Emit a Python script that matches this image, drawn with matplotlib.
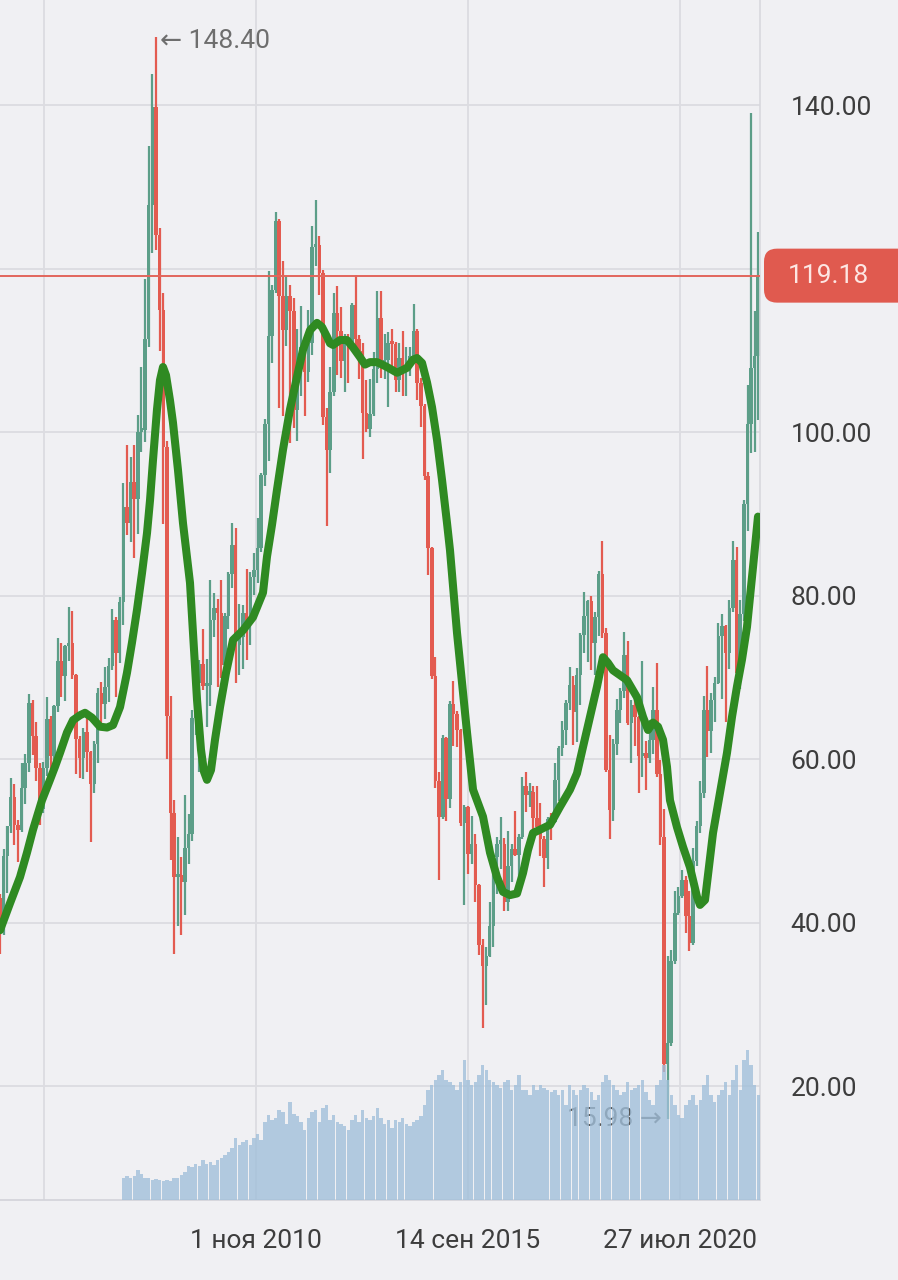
"""Brent-style weekly chart recreation: monthly candles, smoothed trend line and volume."""

import matplotlib

matplotlib.use("Agg")
import matplotlib.pyplot as plt
import matplotlib.patches as mpatches
from matplotlib.transforms import IdentityTransform
import pandas as pd


START_MONTH = "2004-12-01"
VOLUME_START = "2007-10-01"

# monthly OHLC, Dec 2004 .. May 2022 (one row per calendar year)
opens = [
    43.0,
    40.2, 48.2, 51.8, 55.4, 52.0, 51.4, 56.5, 59.5, 66.9, 62.9, 59.0, 53.9,
    58.9, 65.0, 60.4, 66.5, 72.0, 70.2, 73.9, 74.3, 70.3, 62.5, 60.2, 63.4,
    60.9, 57.0, 61.9, 68.1, 66.8, 68.8, 71.4, 77.1, 73.0, 79.2, 90.9, 88.9,
    93.9, 91.8, 100.1, 100.3, 111.4, 127.8, 139.8, 124.1, 115.0, 98.2, 65.3, 53.5,
    45.6, 45.9, 45.0, 49.2, 50.9, 65.1, 69.3, 71.7, 69.0, 69.1, 77.0, 78.5,
    77.9, 71.5, 77.6, 82.7, 86.2, 74.0, 75.0, 77.9, 76.7, 82.3, 83.2, 85.9,
    94.8, 101.0, 111.8, 117.4, 125.9, 116.7, 112.5, 116.7, 114.9, 102.8, 109.6, 110.5,
    107.4, 111.0, 122.7, 122.9, 119.5, 101.9, 97.8, 104.9, 114.6, 112.4, 108.7, 111.2,
    111.1, 115.6, 111.4, 110.0, 102.4, 100.4, 102.2, 107.7, 114.0, 108.4, 108.8, 110.9,
    110.8, 106.4, 109.1, 107.8, 108.1, 109.4, 112.4, 106.0, 103.2, 94.7, 85.9, 70.2,
    57.3, 53.0, 62.6, 55.1, 66.8, 65.6, 63.6, 52.2, 54.2, 48.4, 49.6, 44.6,
    37.3, 34.7, 36.0, 39.6, 48.1, 49.7, 49.7, 42.5, 47.0, 49.1, 48.3, 50.5,
    56.8, 55.7, 56.0, 52.8, 51.7, 50.3, 47.9, 52.7, 52.4, 57.5, 61.4, 63.6,
    66.9, 69.1, 65.8, 70.3, 75.2, 77.6, 79.4, 74.3, 77.4, 82.7, 75.5, 58.7,
    53.8, 61.9, 66.0, 68.4, 72.8, 64.5, 66.6, 65.2, 60.4, 60.8, 60.2, 62.4,
    66.0, 58.2, 50.5, 22.7, 25.3, 35.3, 41.2, 43.3, 45.3, 40.9, 37.5, 47.6,
    51.8, 55.9, 66.1, 63.5, 67.3, 69.3, 75.1, 76.3, 73.0, 78.5, 84.4, 70.6,
    77.8, 91.2, 101.0, 107.9, 109.3,
]
highs = [
    43.5,
    49.0, 51.9, 57.7, 57.0, 52.6, 59.5, 60.6, 68.0, 67.3, 64.6, 59.6, 59.7,
    67.6, 65.3, 66.6, 74.8, 74.3, 74.0, 78.6, 78.2, 70.5, 62.9, 63.8, 65.1,
    61.0, 62.2, 68.7, 69.5, 71.3, 72.4, 78.4, 77.4, 79.9, 93.8, 98.5, 97.0,
    98.5, 102.1, 108.0, 118.8, 135.1, 143.9, 148.4, 125.0, 117.0, 99.0, 67.8, 55.0,
    50.5, 48.0, 55.7, 53.3, 66.0, 71.9, 72.1, 76.0, 72.3, 81.9, 80.4, 79.6,
    82.0, 77.9, 82.9, 88.9, 88.3, 79.0, 78.9, 83.3, 82.9, 85.2, 89.5, 95.0,
    101.7, 119.8, 118.0, 127.0, 126.1, 121.0, 119.1, 118.0, 116.5, 112.7, 115.5, 111.0,
    115.0, 125.2, 128.4, 124.0, 119.9, 103.0, 108.0, 117.0, 117.9, 115.4, 112.0, 112.0,
    115.8, 119.2, 111.9, 111.0, 106.4, 106.5, 109.8, 117.3, 117.3, 112.0, 112.3, 112.6,
    111.1, 111.0, 112.4, 110.4, 110.5, 115.7, 112.6, 106.6, 103.5, 95.2, 86.0, 72.5,
    58.5, 63.0, 62.8, 67.1, 69.6, 65.9, 63.7, 54.4, 54.3, 53.1, 50.9, 44.8,
    38.0, 37.0, 42.5, 48.5, 50.5, 52.9, 50.4, 51.2, 49.7, 53.7, 50.9, 57.9,
    58.4, 57.1, 56.8, 56.7, 54.7, 50.6, 52.9, 53.4, 59.5, 61.7, 64.7, 67.3,
    71.3, 70.2, 71.2, 75.5, 80.5, 79.5, 80.0, 78.0, 83.0, 86.7, 76.1, 63.0,
    62.5, 67.4, 68.7, 75.6, 74.5, 67.3, 67.9, 65.3, 72.0, 62.3, 64.8, 68.9,
    71.8, 59.9, 53.9, 36.0, 36.7, 43.9, 44.4, 46.5, 45.7, 43.9, 49.2, 52.5,
    57.4, 67.7, 71.4, 68.1, 70.1, 76.7, 77.8, 76.5, 79.5, 86.7, 86.0, 79.5,
    91.7, 105.8, 139.1, 114.8, 124.5,
]
lows = [
    36.2,
    38.5, 43.6, 51.0, 49.5, 47.4, 51.1, 54.6, 58.5, 60.5, 57.4, 52.0, 53.5,
    58.0, 57.4, 59.2, 65.8, 67.6, 67.1, 72.0, 69.8, 58.2, 57.7, 57.6, 58.5,
    49.9, 55.9, 59.6, 64.0, 64.9, 67.0, 70.9, 67.6, 71.8, 76.5, 87.5, 86.6,
    84.6, 87.6, 97.6, 98.8, 110.5, 122.0, 122.3, 109.9, 88.8, 60.0, 47.7, 36.2,
    39.6, 38.5, 41.0, 47.2, 50.0, 63.0, 58.4, 68.5, 64.0, 66.5, 75.0, 68.8,
    70.0, 69.2, 76.0, 81.0, 69.3, 70.3, 71.1, 72.1, 74.0, 80.1, 81.6, 85.4,
    93.4, 96.5, 108.5, 117.0, 103.0, 102.0, 110.6, 98.7, 100.5, 99.0, 104.5, 102.0,
    106.2, 109.5, 120.4, 116.8, 100.9, 88.5, 95.0, 104.5, 107.0, 106.7, 105.0, 106.0,
    110.5, 110.0, 106.5, 96.8, 100.0, 99.5, 102.0, 106.0, 106.6, 106.5, 103.1, 108.0,
    104.9, 105.0, 104.4, 104.5, 106.9, 108.6, 104.0, 100.7, 94.2, 82.6, 69.8, 56.5,
    45.2, 52.7, 52.5, 54.0, 61.6, 61.5, 51.9, 42.2, 46.0, 47.2, 42.5, 36.1,
    27.1, 30.0, 35.8, 37.1, 43.5, 46.6, 41.5, 41.5, 45.0, 48.2, 43.6, 50.3,
    53.6, 54.2, 50.3, 50.8, 48.2, 44.4, 46.6, 50.2, 52.2, 54.9, 60.4, 61.8,
    66.0, 61.8, 62.1, 66.6, 73.0, 71.9, 70.9, 70.3, 75.1, 74.8, 58.4, 50.3,
    52.5, 60.5, 64.4, 67.5, 64.2, 59.5, 61.6, 55.9, 57.8, 56.2, 59.6, 60.6,
    57.9, 49.5, 21.7, 15.98, 25.0, 35.0, 41.0, 43.0, 38.8, 36.6, 37.3, 47.0,
    51.0, 55.3, 60.3, 60.8, 64.6, 69.2, 67.4, 64.6, 71.1, 78.0, 70.0, 68.6,
    76.9, 88.0, 97.5, 97.6, 101.5,
]
closes = [
    40.2,
    48.2, 51.8, 55.4, 52.0, 51.4, 56.5, 59.5, 66.9, 62.9, 59.0, 53.9, 58.9,
    65.0, 60.4, 66.5, 72.0, 70.2, 73.9, 74.3, 70.3, 62.5, 60.2, 63.4, 60.9,
    57.0, 61.9, 68.1, 66.8, 68.8, 71.4, 77.1, 73.0, 79.2, 90.9, 88.9, 93.9,
    91.8, 100.1, 100.3, 111.4, 127.8, 139.8, 124.1, 115.0, 98.2, 65.3, 53.5, 45.6,
    45.9, 45.0, 49.2, 50.9, 65.1, 69.3, 71.7, 69.0, 69.1, 77.0, 78.5, 77.9,
    71.5, 77.6, 82.7, 86.2, 74.0, 75.0, 77.9, 76.7, 82.3, 83.2, 85.9, 94.8,
    101.0, 111.8, 117.4, 125.9, 116.7, 112.5, 116.7, 114.9, 102.8, 109.6, 110.5, 107.4,
    111.0, 122.7, 122.9, 119.5, 101.9, 97.8, 104.9, 114.6, 112.4, 108.7, 111.2, 111.1,
    115.6, 111.4, 110.0, 102.4, 100.4, 102.2, 107.7, 114.0, 108.4, 108.8, 110.9, 110.8,
    106.4, 109.1, 107.8, 108.1, 109.4, 112.4, 106.0, 103.2, 94.7, 85.9, 70.2, 57.3,
    53.0, 62.6, 55.1, 66.8, 65.6, 63.6, 52.2, 54.2, 48.4, 49.6, 44.6, 37.3,
    34.7, 36.0, 39.6, 48.1, 49.7, 49.7, 42.5, 47.0, 49.1, 48.3, 50.5, 56.8,
    55.7, 56.0, 52.8, 51.7, 50.3, 47.9, 52.7, 52.4, 57.5, 61.4, 63.6, 66.9,
    69.1, 65.8, 70.3, 75.2, 77.6, 79.4, 74.3, 77.4, 82.7, 75.5, 58.7, 53.8,
    61.9, 66.0, 68.4, 72.8, 64.5, 66.6, 65.2, 60.4, 60.8, 60.2, 62.4, 66.0,
    58.2, 50.5, 22.7, 25.3, 35.3, 41.2, 43.3, 45.3, 40.9, 37.5, 47.6, 51.8,
    55.9, 66.1, 63.5, 67.3, 69.3, 75.1, 76.3, 73.0, 78.5, 84.4, 70.6, 77.8,
    91.2, 101.0, 107.9, 109.3, 119.18,
]

# monthly volume (relative units), Oct 2007 .. May 2022
volumes = [
    22, 24, 22,
    24, 30, 26, 22, 22, 20, 21, 20, 19, 20, 19, 22,
    22, 25, 28, 34, 33, 36, 34, 40, 36, 38, 35, 40,
    42, 45, 48, 52, 62, 55, 58, 60, 55, 62, 66, 60,
    78, 85, 80, 82, 90, 88, 76, 98, 86, 84, 78, 70,
    82, 88, 90, 78, 92, 95, 80, 85, 78, 76, 74, 70,
    80, 85, 78, 90, 82, 80, 84, 92, 82, 76, 80, 72,
    80, 78, 82, 76, 74, 78, 80, 84, 95, 110, 115, 120,
    125, 130, 120, 118, 115, 110, 118, 140, 120, 115, 118, 125,
    135, 130, 120, 118, 115, 112, 118, 120, 110, 115, 125, 110,
    110, 105, 115, 110, 115, 112, 110, 108, 110, 105, 110, 95,
    115, 110, 105, 110, 115, 112, 108, 100, 105, 118, 125, 120,
    115, 110, 105, 108, 118, 110, 112, 115, 120, 108, 100, 95,
    115, 120, 135, 120, 105, 95, 85, 82, 95, 100, 105, 95,
    100, 115, 125, 105, 98, 105, 110, 118, 105, 120, 135, 110,
    140, 150, 135, 115, 105,
]

# hand-drawn green trend line (decimal year, price)
ma_years = [
    2004.956, 2005.186, 2005.415, 2005.576, 2005.714, 2005.920, 2006.104,
    2006.219, 2006.334, 2006.495, 2006.632, 2006.793, 2006.908, 2007.069,
    2007.252, 2007.413, 2007.551, 2007.712, 2007.872, 2007.987, 2008.102,
    2008.217, 2008.332, 2008.401, 2008.469, 2008.561, 2008.630, 2008.699,
    2008.768, 2008.860, 2008.928, 2009.043, 2009.158, 2009.319, 2009.480,
    2009.571, 2009.640, 2009.709, 2009.801, 2009.893, 2010.008, 2010.146,
    2010.306, 2010.536, 2010.766, 2010.995, 2011.087, 2011.202, 2011.317,
    2011.455, 2011.615, 2011.776, 2011.914, 2012.075, 2012.235, 2012.350,
    2012.465, 2012.534, 2012.603, 2012.763, 2012.924, 2013.062, 2013.223,
    2013.338, 2013.453, 2013.613, 2013.843, 2014.073, 2014.302, 2014.440,
    2014.532, 2014.647, 2014.762, 2014.876, 2014.991, 2015.106, 2015.221,
    2015.289, 2015.450, 2015.680, 2015.818, 2016.047, 2016.208, 2016.369,
    2016.506, 2016.667, 2016.828, 2016.966, 2017.080, 2017.195, 2017.356,
    2017.586, 2017.815, 2018.045, 2018.206, 2018.343, 2018.504, 2018.665,
    2018.803, 2018.918, 2019.032, 2019.354, 2019.584, 2019.722, 2019.836,
    2019.951, 2020.066, 2020.181, 2020.272, 2020.341, 2020.502, 2020.640,
    2020.800, 2020.961, 2021.030, 2021.145, 2021.329, 2021.489, 2021.650,
    2021.765, 2021.879, 2021.994, 2022.109, 2022.247, 2022.362,
]
ma_values = [
    39.1, 42.4, 45.6, 48.6, 51.4, 55.0, 57.5,
    59.1, 60.8, 63.3, 64.8, 65.4, 65.7, 65.1,
    64.0, 63.9, 64.2, 66.4, 70.6, 74.3, 78.3,
    82.8, 87.7, 91.7, 96.6, 102.8, 106.4, 108.0,
    107.0, 103.9, 101.2, 95.4, 88.9, 81.6, 67.3,
    61.2, 58.5, 57.5, 58.7, 62.4, 66.4, 70.6,
    74.6, 75.8, 77.4, 80.4, 84.8, 88.7, 93.0,
    97.9, 102.8, 106.8, 110.1, 112.5, 113.4, 112.9,
    111.7, 110.9, 110.7, 111.3, 111.3, 110.4, 109.2,
    108.3, 108.6, 108.6, 108.0, 107.3, 107.9, 108.9,
    109.1, 108.5, 106.1, 103.1, 99.1, 94.2, 88.9,
    85.6, 75.5, 63.3, 56.3, 53.0, 48.6, 45.6,
    43.8, 43.4, 43.6, 46.1, 48.9, 51.0, 51.4,
    52.0, 54.2, 56.3, 58.3, 61.5, 65.2, 68.9,
    72.5, 71.8, 70.9, 69.7, 67.6, 65.2, 63.6,
    64.5, 64.0, 62.4, 59.1, 55.0, 51.7, 49.3,
    46.8, 43.2, 42.2, 42.8, 51.0, 55.9, 60.8,
    65.2, 68.9, 72.2, 76.2, 83.5, 89.7,
]

tick_dates = ["2005-12-19", "2010-11-01", "2015-09-14", "2020-07-27"]
tick_labels = ["", "1 ноя 2010", "14 сен 2015", "27 июл 2020"]
price_ticks = [20, 40, 60, 80, 100, 120, 140]

BG = "#f0f0f3"
UP = "#5c9e88"
DOWN = "#e35b50"
TEXT = "#3d3d3d"


def to_year(ts):
    days = 366 if ts.is_leap_year else 365
    return ts.year + (ts.dayofyear - 1) / days


def main() -> None:
    plt.rcParams["font.family"] = ["Roboto", "DejaVu Sans"]

    fig = plt.figure(figsize=(8.98, 12.8), dpi=100, facecolor=BG)
    ax = fig.add_axes([0, 80 / 1280, 760 / 898, 1200 / 1280], facecolor=BG)

    months = pd.date_range(START_MONTH, periods=len(closes), freq="MS")
    xs = [to_year(m + pd.Timedelta(days=14)) for m in months]
    colors = [UP if c >= o else DOWN for o, c in zip(opens, closes)]
    bottoms = [min(o, c) for o, c in zip(opens, closes)]
    heights = [max(abs(c - o), 0.4) for o, c in zip(opens, closes)]

    ax.vlines(xs, lows, highs, colors=colors, linewidth=1.6, zorder=2)
    ax.bar(xs, heights, bottom=bottoms, width=0.08, color=colors,
           linewidth=0, zorder=2)

    last_price = closes[-1]
    ax.axhline(last_price, color="#e2665c", linewidth=1.4, zorder=3)
    ax.plot(ma_years, ma_values, color="#2f8a22", linewidth=5.8,
            solid_capstyle="round", solid_joinstyle="round", zorder=5)

    ax.set_xlim(2004.956, 2022.408)
    ax.set_ylim(6.1, 152.9)

    # extremes
    i_hi = highs.index(max(highs))
    i_lo = lows.index(min(lows))
    ax.annotate(f"← {highs[i_hi]:.2f}", xy=(xs[i_hi], highs[i_hi]),
                xytext=(3, -3), textcoords="offset points", ha="left",
                va="center", fontsize=19, color="#6e6e6e", zorder=6)
    ax.annotate(f"{lows[i_lo]:.2f} →", xy=(xs[i_lo], lows[i_lo]),
                xytext=(-4, 0), textcoords="offset points", ha="right",
                va="center", fontsize=19, color="#555555", zorder=1)

    # volume on its own scale, drawn over the price pane
    vol_ax = ax.twinx()
    vol_months = pd.date_range(VOLUME_START, periods=len(volumes), freq="MS")
    vol_xs = [to_year(m + pd.Timedelta(days=14)) for m in vol_months]
    vol_ax.bar(vol_xs, volumes, width=0.078, color="#a0bfda", alpha=0.78,
               linewidth=0)
    vol_ax.set_ylim(0, 1200)
    vol_ax.set_yticks([])
    for spine in vol_ax.spines.values():
        spine.set_visible(False)

    # price axis on the right (after twinx, which moves it back to the left)
    ax.set_xticks([to_year(pd.Timestamp(d)) for d in tick_dates])
    ax.set_xticklabels(tick_labels)
    ax.yaxis.tick_right()
    ax.set_yticks(price_ticks)
    ax.set_yticklabels(["" if v == 120 else f"{v:.2f}" for v in price_ticks])
    ax.tick_params(axis="x", length=0, pad=21, labelsize=19, labelcolor=TEXT)
    ax.tick_params(axis="y", length=0, pad=22, labelsize=19, labelcolor=TEXT,
                   left=False, labelleft=False, right=True, labelright=True)
    ax.grid(color="#dcdce1", linewidth=1.3)
    ax.set_axisbelow(True)
    for side in ("left", "top"):
        ax.spines[side].set_visible(False)
    ax.spines["right"].set_color("#d8d8de")
    ax.spines["bottom"].set_color("#d3d3d9")
    ax.spines["right"].set_linewidth(1.2)
    ax.spines["bottom"].set_linewidth(1.2)

    # last price badge
    y_px = ax.transData.transform((ax.get_xlim()[0], last_price))[1]
    badge = mpatches.FancyBboxPatch(
        (764, y_px - 27), 170, 54,
        boxstyle="round,pad=0,rounding_size=13",
        transform=IdentityTransform(), facecolor="#e05a4f", edgecolor="none",
    )
    fig.add_artist(badge)
    fig.text(828, y_px, f"{last_price:.2f}", transform=IdentityTransform(),
             ha="center", va="center", fontsize=19, color="#fde6e3")

    fig.savefig("out.png", dpi=100, facecolor=BG)


if __name__ == "__main__":
    main()
